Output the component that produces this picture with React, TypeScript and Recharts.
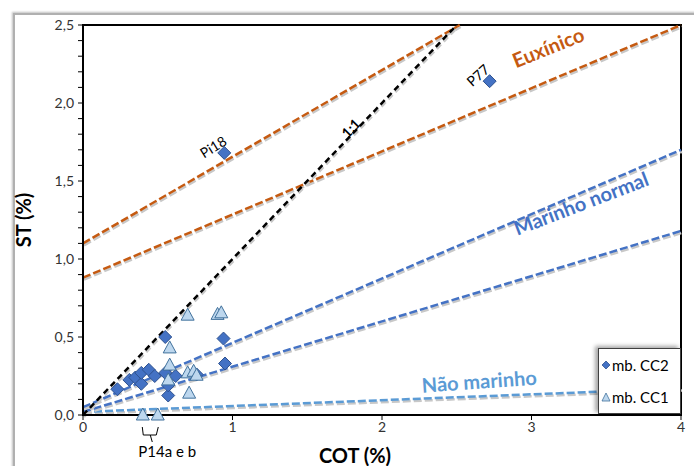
import React from 'react';
import {
  ScatterChart,
  Scatter,
  XAxis,
  YAxis,
  ReferenceLine,
  ReferenceDot,
  ReferenceArea,
  Legend,
  Label,
} from 'recharts';

const FONT = 'Lato, "Open Sans", "DejaVu Sans", sans-serif';

// mb. CC2 (diamonds)
const cc2 = [
  { x: 0.23, y: 0.165 },
  { x: 0.31, y: 0.225 },
  { x: 0.35, y: 0.24 },
  { x: 0.39, y: 0.2 },
  { x: 0.39, y: 0.27 },
  { x: 0.44, y: 0.29 },
  { x: 0.48, y: 0.25 },
  { x: 0.55, y: 0.5 },
  { x: 0.55, y: 0.27 },
  { x: 0.57, y: 0.125 },
  { x: 0.57, y: 0.19 },
  { x: 0.62, y: 0.25 },
  { x: 0.76, y: 0.26 },
  { x: 0.94, y: 0.49 },
  { x: 0.95, y: 0.33 },
  { x: 0.945, y: 1.68 },
  { x: 2.72, y: 2.14 },
];

// mb. CC1 (triangles)
const cc1 = [
  { x: 0.7, y: 0.64 },
  { x: 0.9, y: 0.645 },
  { x: 0.925, y: 0.655 },
  { x: 0.58, y: 0.43 },
  { x: 0.58, y: 0.32 },
  { x: 0.57, y: 0.225 },
  { x: 0.7, y: 0.27 },
  { x: 0.74, y: 0.28 },
  { x: 0.76, y: 0.255 },
  { x: 0.71, y: 0.14 },
  { x: 0.4, y: 0.0 },
  { x: 0.5, y: 0.0 },
];

const xTicks = [0, 1, 2, 3, 4];
const yTicks = [
  0, 0.1, 0.2, 0.3, 0.4, 0.5, 0.6, 0.7, 0.8, 0.9, 1.0, 1.1, 1.2, 1.3, 1.4,
  1.5, 1.6, 1.7, 1.8, 1.9, 2.0, 2.1, 2.2, 2.3, 2.4, 2.5,
];

// reference lines (endpoints in data units)
const lineOneToOne = [{ x: 0, y: 0 }, { x: 2.5, y: 2.5 }];
const lineEuxUpper = [{ x: 0, y: 1.1 }, { x: 2.52, y: 2.5 }];
const lineEuxLower = [{ x: 0, y: 0.88 }, { x: 4, y: 2.5 }];
const lineMarUpper = [{ x: 0, y: 0.05 }, { x: 4, y: 1.7 }];
const lineMarLower = [{ x: 0, y: 0.02 }, { x: 4, y: 1.18 }];
const lineNaoMar = [{ x: 0, y: 0.02 }, { x: 4, y: 0.17 }];

const annotations = [
  { text: 'Euxínico', x: 3.11, y: 2.36, angle: -22, color: '#C55A11', size: 20, weight: 700 },
  { text: 'Marinho normal', x: 3.33, y: 1.36, angle: -21, color: '#4472C4', size: 20, weight: 700 },
  { text: 'Não marinho', x: 2.65, y: 0.22, angle: -4, color: '#5B9BD5', size: 20, weight: 700 },
  { text: '1:1', x: 1.79, y: 1.84, angle: -46, color: '#000000', size: 14, weight: 700 },
  { text: 'Pi18', x: 0.87, y: 1.72, angle: -32, color: '#000000', size: 14, weight: 400 },
  { text: 'P77', x: 2.64, y: 2.18, angle: -42, color: '#000000', size: 14, weight: 400 },
];

const Diamond = (props: any) => {
  const { cx, cy } = props;
  if (cx == null || cy == null) return null;
  const r = 6.5;
  return (
    <polygon
      points={`${cx},${cy - r} ${cx + r},${cy} ${cx},${cy + r} ${cx - r},${cy}`}
      fill="#4472C4"
      stroke="#2F528F"
      strokeWidth={1}
    />
  );
};

const Triangle = (props: any) => {
  const { cx, cy } = props;
  if (cx == null || cy == null) return null;
  const w = 6.5;
  return (
    <polygon
      points={`${cx},${cy - 7} ${cx + w},${cy + 5} ${cx - w},${cy + 5}`}
      fill="#BDD7EE"
      stroke="#41719C"
      strokeWidth={1}
    />
  );
};

const dashedShape = (color: string, dash: string) => (p: any) => (
  <g>
    <line
      x1={p.x1 + 1}
      y1={p.y1 + 2}
      x2={p.x2 + 1}
      y2={p.y2 + 2}
      stroke="#c8c8c8"
      strokeWidth={2.5}
      strokeDasharray={dash}
    />
    <line
      x1={p.x1}
      y1={p.y1}
      x2={p.x2}
      y2={p.y2}
      stroke={color}
      strokeWidth={2.5}
      strokeDasharray={dash}
    />
  </g>
);

const annotShape = (a: any) => (p: any) => (
  <text
    x={p.cx}
    y={p.cy}
    transform={`rotate(${a.angle} ${p.cx} ${p.cy})`}
    textAnchor="middle"
    dominantBaseline="central"
    fill={a.color}
    fontSize={a.size}
    fontWeight={a.weight}
    fontFamily={FONT}
  >
    {a.text}
  </text>
);

const braceShape = (p: any) => {
  const { cx, cy } = p;
  return (
    <g>
      <path
        d={`M${cx - 8},${cy + 12} L${cx - 7},${cy + 20} L${cx},${cy + 20} L${cx + 2},${cy + 27} M${cx},${cy + 20} L${cx + 6},${cy + 20} L${cx + 8},${cy + 12}`}
        fill="none"
        stroke="#000"
        strokeWidth={1}
      />
      <text
        x={cx + 17}
        y={cy + 36}
        textAnchor="middle"
        dominantBaseline="central"
        fontSize={15}
        fontFamily={FONT}
        fill="#000"
      >
        P14a e b
      </text>
    </g>
  );
};

const yFmt = (v: number) =>
  Math.abs(v * 2 - Math.round(v * 2)) < 1e-6 ? v.toFixed(1).replace('.', ',') : '';

const LegendBox = () => (
  <div
    style={{
      width: 83,
      height: 66,
      background: '#fff',
      border: '1px solid #404040',
      boxShadow: '-3px -2px 4px rgba(0,0,0,0.35)',
      fontFamily: FONT,
      fontSize: 15,
      color: '#000',
      boxSizing: 'border-box',
      position: 'relative',
    }}
  >
    <div style={{ position: 'absolute', left: 2, top: 7, display: 'flex', alignItems: 'center' }}>
      <svg width={10} height={10}>
        <polygon points="5,1 9,5 5,9 1,5" fill="#4472C4" stroke="#2F528F" strokeWidth={0.8} />
      </svg>
      <span style={{ marginLeft: 1 }}>mb. CC2</span>
    </div>
    <div style={{ position: 'absolute', left: 2, top: 39, display: 'flex', alignItems: 'center' }}>
      <svg width={10} height={10}>
        <polygon points="5,1 9,9 1,9" fill="#BDD7EE" stroke="#41719C" strokeWidth={0.8} />
      </svg>
      <span style={{ marginLeft: 1 }}>mb. CC1</span>
    </div>
  </div>
);

export default function App() {
  return (
    <div style={{ position: 'absolute', left: 0, top: 0, width: 694, height: 466, overflow: 'hidden', background: '#fff' }}>
      <div
        style={{
          position: 'absolute',
          left: 13,
          top: 13,
          width: 700,
          height: 470,
          borderLeft: '2px solid #b0b0b0',
          borderTop: '2px solid #b0b0b0',
          boxShadow: '-1px -1px 2px rgba(0,0,0,0.25)',
        }}
      />
      <div style={{ position: 'absolute', left: 0, top: 0 }}>
        <ScatterChart
          width={694}
          height={466}
          margin={{ top: 25, right: 13, bottom: 0, left: 0 }}
          style={{ fontFamily: FONT }}
        >
          <XAxis
            type="number"
            dataKey="x"
            domain={[0, 4]}
            ticks={xTicks}
            height={51}
            tickSize={5}
            axisLine={{ stroke: '#000', strokeWidth: 2 }}
            tickLine={{ stroke: '#000', strokeWidth: 1 }}
            tick={{ fill: '#333', fontSize: 14, fontFamily: FONT }}
          >
            <Label
              value="COT (%)"
              position="insideBottom"
              offset={3}
              dx={-27}
              style={{ fontSize: 20, fontWeight: 700, fill: '#000', fontFamily: FONT }}
            />
          </XAxis>
          <YAxis
            type="number"
            dataKey="y"
            domain={[0, 2.5]}
            ticks={yTicks}
            interval={0}
            width={83}
            tickSize={5}
            tickMargin={4}
            tickFormatter={yFmt}
            axisLine={{ stroke: '#000', strokeWidth: 2 }}
            tickLine={{ stroke: '#000', strokeWidth: 1 }}
            tick={{ fill: '#333', fontSize: 14, fontFamily: FONT }}
          >
            <Label
              value="ST (%)"
              angle={-90}
              position="insideLeft"
              offset={24}
              style={{ fontSize: 20, fontWeight: 700, fill: '#000', fontFamily: FONT, textAnchor: 'middle' }}
            />
          </YAxis>
          <ReferenceArea x1={0} x2={4} y1={0} y2={2.5} fill="none" stroke="#000" strokeWidth={2} />
          <ReferenceLine segment={lineNaoMar} shape={dashedShape('#5B9BD5', '8 3')} ifOverflow="hidden" />
          <ReferenceLine segment={lineMarLower} shape={dashedShape('#4472C4', '8 3')} ifOverflow="hidden" />
          <ReferenceLine segment={lineMarUpper} shape={dashedShape('#4472C4', '8 3')} ifOverflow="hidden" />
          <ReferenceLine segment={lineEuxLower} shape={dashedShape('#C55A11', '8 3')} ifOverflow="hidden" />
          <ReferenceLine segment={lineEuxUpper} shape={dashedShape('#C55A11', '8 3')} ifOverflow="hidden" />
          <ReferenceLine segment={lineOneToOne} shape={dashedShape('#000000', '6 4')} ifOverflow="hidden" />
          {annotations.map((a) => (
            <ReferenceDot key={a.text} x={a.x} y={a.y} r={0} shape={annotShape(a)} ifOverflow="visible" />
          ))}
          <ReferenceDot x={0.45} y={0} r={0} shape={braceShape} ifOverflow="visible" />
          <Scatter name="mb. CC2" data={cc2} shape={Diamond} isAnimationActive={false} />
          <Scatter name="mb. CC1" data={cc1} shape={Triangle} isAnimationActive={false} />
          <Legend
            layout="vertical"
            align="center"
            verticalAlign="middle"
            wrapperStyle={{ left: 598, top: 348, width: 83, height: 66 }}
            content={() => <LegendBox />}
          />
        </ScatterChart>
      </div>
    </div>
  );
}
